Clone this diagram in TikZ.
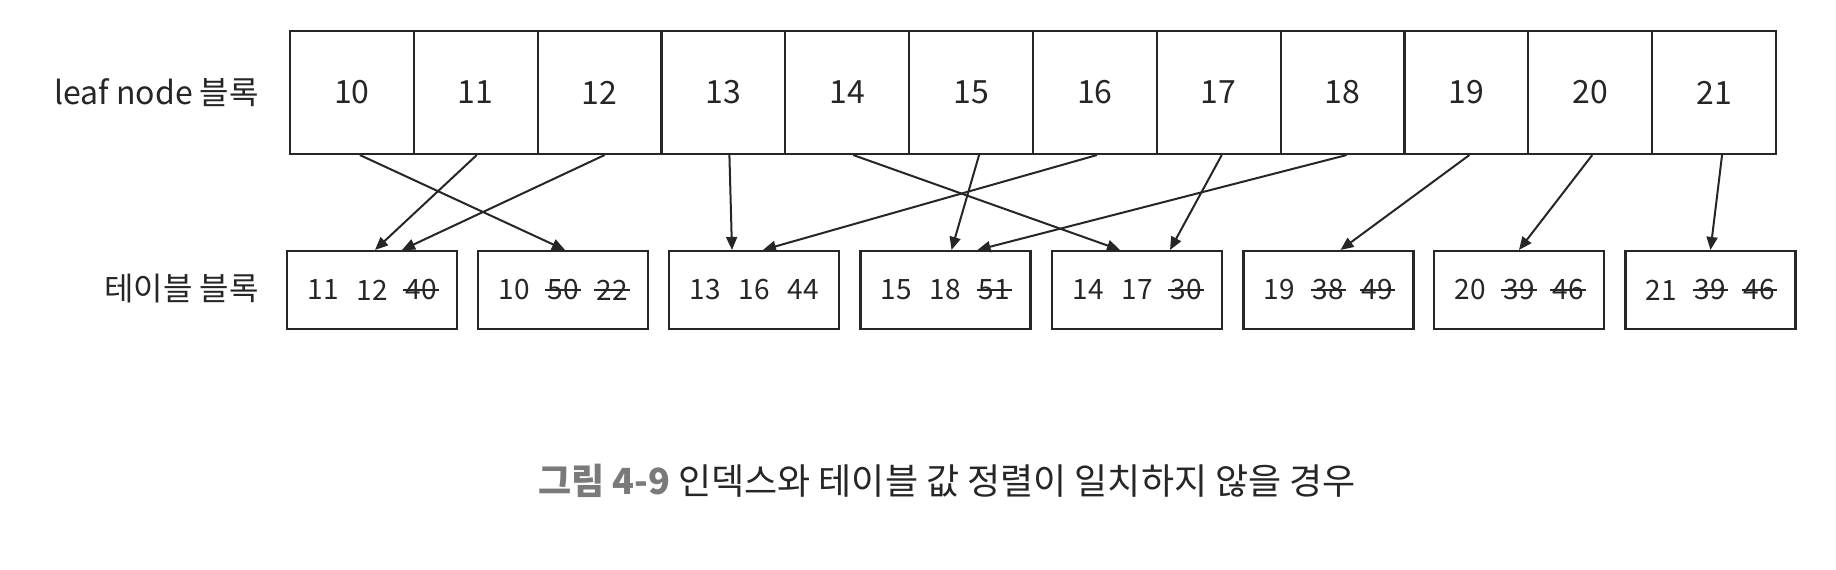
\documentclass[tikz,border=0pt]{standalone}
\usepackage{fontspec}
\setmainfont{Noto Sans CJK KR}
\usetikzlibrary{arrows.meta}
\definecolor{ink}{HTML}{262626}
\definecolor{capgray}{HTML}{7A7A7A}
\begin{document}
\begin{tikzpicture}[x=1pt,y=-1pt,
  cell/.style={draw=ink, line width=2.1pt, minimum width=123.83pt, minimum height=123pt, inner sep=0pt, text=ink, font=\fontsize{32}{38}\selectfont},
  tbox/.style={draw=ink, line width=2.1pt, minimum width=170pt, minimum height=78pt, inner sep=0pt},
  num/.style={inner xsep=2pt, inner ysep=0pt, text=ink, font=\fontsize{28}{33}\selectfont},
  strk/.style={draw=ink, line width=1.4pt},
  lbl/.style={anchor=east, inner sep=0pt, text=ink, font=\fontsize{32}{38}\selectfont},
  arr/.style={draw=ink, line width=2pt, -{Triangle[length=13pt,width=11pt]}}]
\useasboundingbox[fill=white] (0,0) rectangle (1836,570);

% leaf node cells
\foreach \v [count=\k from 0] in {10,...,21}
  \node[cell] (c\v) at ({290+123.83*(\k+0.5)},92.5) {\v};

% table blocks
\foreach \bx/\a/\b/\c/\sa/\sb/\sc [count=\j] in
  {372/11/12/40/0/0/1, 563/10/50/22/0/1/1, 754/13/16/44/0/0/0, 945.5/15/18/51/0/0/1,
   1137/14/17/30/0/0/1, 1328.5/19/38/49/0/1/1, 1519/20/39/46/0/1/1, 1710.5/21/39/46/0/1/1}
{
  \node[tbox] (b\j) at (\bx,290) {};
  \node[num] (n\j-1) at ([xshift=-49pt]b\j.center) {\a};
  \node[num] (n\j-2) at (b\j.center) {\b};
  \node[num] (n\j-3) at ([xshift=49pt]b\j.center) {\c};
  \ifnum\sa=1 \draw[strk] (n\j-1.west) -- (n\j-1.east); \fi
  \ifnum\sb=1 \draw[strk] (n\j-2.west) -- (n\j-2.east); \fi
  \ifnum\sc=1 \draw[strk] (n\j-3.west) -- (n\j-3.east); \fi
}

% labels
\node[lbl] (lleaf) at (259,93) {leaf node 블록};
\node[lbl] (ltab) at (259,289) {테이블 블록};

% arrows
\draw[arr] ([xshift=8pt]c10.south) -- ([xshift=2pt]b2.north);
\draw[arr] ([xshift=1pt]c11.south) -- ([xshift=3pt]b1.north);
\draw[arr] ([xshift=5pt]c12.south) -- ([xshift=30pt]b1.north);
\draw[arr] ([xshift=6pt]c13.south) -- ([xshift=-22pt]b3.north);
\draw[arr] ([xshift=6pt]c14.south) -- ([xshift=-17pt]b5.north);
\draw[arr] ([xshift=8pt]c15.south) -- ([xshift=6pt]b4.north);
\draw[arr] ([xshift=2pt]c16.south) -- ([xshift=9pt]b3.north);
\draw[arr] ([xshift=3pt]c17.south) -- ([xshift=33pt]b5.north);
\draw[arr] ([xshift=4pt]c18.south) -- ([xshift=32pt]b4.north);
\draw[arr] ([xshift=3pt]c19.south) -- ([xshift=12pt]b6.north);
\draw[arr] ([xshift=2pt]c20.south) -- ([xshift=0pt]b7.north);
\draw[arr] ([xshift=8pt]c21.south) -- ([xshift=0pt]b8.north);

% caption
\node[inner sep=0pt, font=\fontsize{36}{42}\selectfont] (cap) at (947,481)
  {\textcolor{capgray}{\bfseries 그림 4-9}\ \textcolor{ink}{인덱스와 테이블 값 정렬이 일치하지 않을 경우}};
\end{tikzpicture}
\end{document}
